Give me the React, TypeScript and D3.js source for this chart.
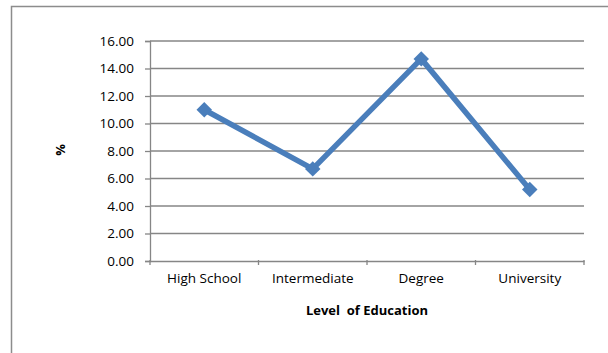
import React, { useRef, useEffect } from "react"
import * as d3 from "d3"

const categories = ["High School", "Intermediate", "Degree", "University"]
const values = [11.0, 6.7, 14.7, 5.2]
const yTicks = [0, 2, 4, 6, 8, 10, 12, 14, 16]

const width = 608
const height = 353
const margin = { top: 41, left: 150, right: 24, bottom: 92 }
const font = "'Open Sans', 'Noto Sans', sans-serif"

function App() {
  const ref = useRef<SVGSVGElement>(null)

  useEffect(() => {
    document.body.style.margin = "0"
    const svg = d3.select(ref.current)
    svg.selectAll("*").remove()

    // frame of the chart area
    svg
      .append("path")
      .attr("d", `M11.5,${height} V6.5 H${width}`)
      .attr("fill", "none")
      .attr("stroke", "#8c8c8c")
      .attr("stroke-width", 1.5)

    const x = d3
      .scaleBand()
      .domain(categories)
      .range([margin.left, width - margin.right])

    const y = d3
      .scaleLinear()
      .domain([0, 16])
      .range([height - margin.bottom, margin.top])

    const g = svg.append("g")

    // horizontal grid
    g.selectAll(".grid")
      .data(yTicks.filter(d => d > 0))
      .join("line")
      .attr("class", "grid")
      .attr("x1", margin.left)
      .attr("x2", width - margin.right)
      .attr("y1", d => y(d))
      .attr("y2", d => y(d))
      .attr("stroke", "#868686")
      .attr("stroke-width", 1.3)

    const yAxis = g
      .append("g")
      .attr("transform", `translate(${margin.left},0)`)
      .call(
        d3
          .axisLeft(y)
          .tickValues(yTicks)
          .tickSize(5)
          .tickPadding(11)
          .tickFormat(d3.format(".2f"))
      )
    yAxis.selectAll("path, line").attr("stroke", "#868686").attr("stroke-width", 1.3)
    yAxis
      .selectAll("text")
      .attr("fill", "#000")
      .style("font-family", font)
      .style("font-size", "13.5px")

    const xAxis = g
      .append("g")
      .attr("transform", `translate(0,${height - margin.bottom})`)
      .call(d3.axisBottom(x).tickSizeInner(0).tickSizeOuter(0).tickPadding(12))
    xAxis.select(".domain").attr("stroke", "#868686").attr("stroke-width", 1.3)
    xAxis
      .selectAll("text")
      .attr("fill", "#000")
      .style("font-family", font)
      .style("font-size", "13.5px")

    // category boundary ticks on the x axis
    const bounds = categories.map(c => x(c) as number).concat([width - margin.right])
    g.selectAll(".xtick")
      .data(bounds)
      .join("line")
      .attr("x1", d => d)
      .attr("x2", d => d)
      .attr("y1", height - margin.bottom - 1)
      .attr("y2", height - margin.bottom + 4)
      .attr("stroke", "#868686")
      .attr("stroke-width", 1.3)

    const cx = (c: string) => (x(c) as number) + x.bandwidth() / 2
    const line = d3
      .line<number>()
      .x((d, i) => cx(categories[i]))
      .y(d => y(d))

    g.append("path")
      .datum(values)
      .attr("d", line)
      .attr("fill", "none")
      .attr("stroke", "#4a7ebb")
      .attr("stroke-width", 5.5)
      .attr("stroke-linejoin", "round")

    g.selectAll(".marker")
      .data(values)
      .join("path")
      .attr("d", d3.symbol(d3.symbolSquare, 120))
      .attr("transform", (d, i) => `translate(${cx(categories[i])},${y(d)}) rotate(45)`)
      .attr("fill", "#4a7ebb")

    svg
      .append("text")
      .attr("x", (margin.left + width - margin.right) / 2)
      .attr("y", 315)
      .attr("text-anchor", "middle")
      .style("font-family", font)
      .style("font-size", "13px")
      .style("font-weight", "bold")
      .style("white-space", "pre")
      .text("Level  of Education")

    svg
      .append("text")
      .attr("transform", `translate(65,150) rotate(-90)`)
      .attr("text-anchor", "middle")
      .style("font-family", font)
      .style("font-size", "13px")
      .style("font-weight", "bold")
      .text("%")
  }, [])

  return <svg ref={ref} width={width} height={height} style={{ display: "block" }}></svg>
}

export default App
